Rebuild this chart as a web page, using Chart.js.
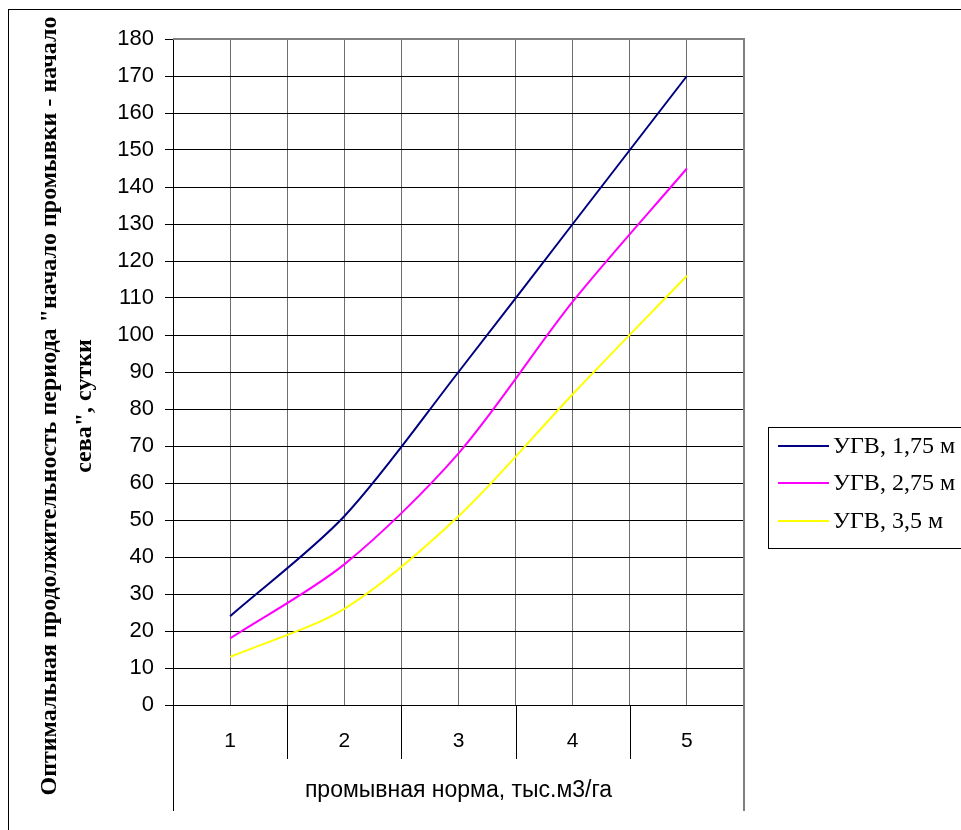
<!DOCTYPE html>
<html>
<head>
<meta charset="utf-8">
<script src="https://cdn.jsdelivr.net/npm/chart.js@4.4.1/dist/chart.umd.min.js"></script>
<style>
  html, body { margin: 0; padding: 0; background: #ffffff; }
  #wrap { width: 961px; height: 830px; }
</style>
</head>
<body>
<div id="wrap"><canvas id="c" width="961" height="830"></canvas></div>
<script>
// ---- data ----
const categories = [1, 2, 3, 4, 5];
const seriesNames = ['УГВ, 1,75 м', 'УГВ, 2,75 м', 'УГВ, 3,5 м'];
const ugv175 = [24, 51, 90, 130, 170];
const ugv275 = [18, 38, 68, 109, 145];
const ugv35 = [13, 26, 51, 84, 116];
const seriesColors = ['#000080', '#FF00FF', '#FFFF00'];
const yMin = 0, yMax = 180, yStep = 10;
const xTitle = 'промывная норма, тыс.м3/га';
const yTitleLines = ['Оптимальная продолжительность периода "начало промывки - начало', 'сева", сутки'];

const seriesValues = [ugv175, ugv275, ugv35];

const datasets = seriesValues.map((vals, i) => ({
  label: seriesNames[i],
  data: categories.map((c, j) => ({ x: c, y: vals[j] })),
  borderColor: seriesColors[i],
  backgroundColor: seriesColors[i],
  borderWidth: 2,
  pointRadius: 0,
  tension: 0.3,
  fill: false
}));

const PAD_TOP = 39, PAD_BOTTOM = 10, PAD_RIGHT = 217;
const AREA_LEFT = 173, AREA_BOTTOM = 705;

const decor = {
  id: 'decor',
  beforeDraw(chart) {
    const ctx = chart.ctx;
    ctx.save();
    ctx.fillStyle = '#ffffff';
    ctx.fillRect(0, 0, chart.width, chart.height);
    ctx.restore();
  },
  afterDraw(chart) {
    const ctx = chart.ctx;
    const xs = chart.scales.x;
    const ca = chart.chartArea;
    ctx.save();
    // category boundary separators in the label area
    ctx.strokeStyle = '#000000';
    ctx.lineWidth = 1;
    categories.slice(0, -1).forEach(c => {
      const px = Math.round(xs.getPixelForValue(c + 0.5)) + 0.5;
      ctx.beginPath();
      ctx.moveTo(px, ca.bottom);
      ctx.lineTo(px, ca.bottom + 54);
      ctx.stroke();
    });
    // outer edges of the multi-level axis box
    const lx = Math.round(xs.getPixelForValue(categories[0] - 0.5)) + 0.5;
    const rx = Math.round(xs.getPixelForValue(categories[categories.length - 1] + 0.5));
    ctx.strokeStyle = '#000000';
    ctx.beginPath(); ctx.moveTo(lx, ca.bottom); ctx.lineTo(lx, 811); ctx.stroke();
    ctx.strokeStyle = '#808080';
    ctx.lineWidth = 2;
    ctx.beginPath(); ctx.moveTo(rx, ca.top - 1); ctx.lineTo(rx, 811); ctx.stroke();
    ctx.beginPath(); ctx.moveTo(ca.left, ca.top); ctx.lineTo(rx + 1, ca.top); ctx.stroke();

    // y axis title (rotated, two lines)
    ctx.fillStyle = '#000000';
    ctx.font = 'bold 24px "Liberation Serif", "Times New Roman", serif';
    ctx.textAlign = 'center';
    ctx.textBaseline = 'middle';
    const cy = 406;
    const lineX = [50, 85];
    yTitleLines.forEach((t, i) => {
      ctx.save();
      ctx.translate(lineX[i], cy);
      ctx.rotate(-Math.PI / 2);
      ctx.fillText(t, 0, 0);
      ctx.restore();
    });

    // legend box
    const bx = 768.5, by = 427.5, bw = 260, bh = 121;
    ctx.strokeStyle = '#000000';
    ctx.lineWidth = 1;
    ctx.strokeRect(bx, by, bw, bh);
    const rowsY = [446, 483, 521];
    ctx.font = '24px "Liberation Serif", "Times New Roman", serif';
    ctx.textAlign = 'left';
    chart.data.datasets.forEach((ds, i) => {
      const y = rowsY[i];
      ctx.strokeStyle = ds.borderColor;
      ctx.lineWidth = 2;
      ctx.beginPath(); ctx.moveTo(778, y); ctx.lineTo(829, y); ctx.stroke();
      ctx.fillStyle = '#000000';
      ctx.fillText(ds.label, 833, y + 1);
    });

    // outer chart frame
    ctx.strokeStyle = '#000000';
    ctx.lineWidth = 1;
    ctx.strokeRect(8.5, 9.5, 1100, 1100);
    ctx.restore();
  }
};

new Chart(document.getElementById('c'), {
  type: 'line',
  data: { datasets },
  options: {
    responsive: false,
    animation: false,
    devicePixelRatio: 1,
    layout: { padding: { top: PAD_TOP, bottom: PAD_BOTTOM, right: PAD_RIGHT, left: 0 } },
    plugins: {
      legend: { display: false },
      tooltip: { enabled: false }
    },
    scales: {
      x: {
        type: 'linear',
        min: categories[0] - 0.5,
        max: categories[categories.length - 1] + 0.5,
        afterFit: s => { s.height = 830 - PAD_BOTTOM - AREA_BOTTOM; },
        afterBuildTicks: s => {
          const t = [];
          for (let v = categories[0] - 0.5; v <= categories[categories.length - 1] + 0.5 + 1e-9; v += 0.5) t.push({ value: v });
          s.ticks = t;
        },
        ticks: {
          autoSkip: false,
          maxRotation: 0,
          padding: 24,
          color: '#000000',
          font: { family: '"Liberation Sans", Arial, sans-serif', size: 21 },
          callback: v => (categories.includes(v) ? String(v) : '')
        },
        grid: {
          drawTicks: false,
          color: ctx => (ctx.tick && (ctx.tick.value === categories[0] - 0.5 || ctx.tick.value === categories[categories.length - 1] + 0.5)) ? 'rgba(0,0,0,0)' : '#6e6e6e',
          lineWidth: 1
        },
        border: { display: true, color: '#000000', width: 1 },
        title: {
          display: true,
          text: xTitle,
          color: '#000000',
          font: { family: '"Liberation Sans", Arial, sans-serif', size: 23 },
          padding: { top: 0, bottom: 16 }
        }
      },
      y: {
        type: 'linear',
        min: yMin,
        max: yMax,
        afterFit: s => { s.width = AREA_LEFT; },
        ticks: {
          stepSize: yStep,
          padding: 11,
          color: '#000000',
          font: { family: '"Liberation Sans", Arial, sans-serif', size: 22 }
        },
        grid: {
          color: ctx => (ctx.tick && ctx.tick.value === yMax) ? 'rgba(0,0,0,0)' : '#000000',
          tickColor: '#000000',
          lineWidth: 1,
          tickLength: 8
        },
        border: { display: true, color: '#000000', width: 1 }
      }
    }
  },
  plugins: [decor]
});
</script>
</body>
</html>
